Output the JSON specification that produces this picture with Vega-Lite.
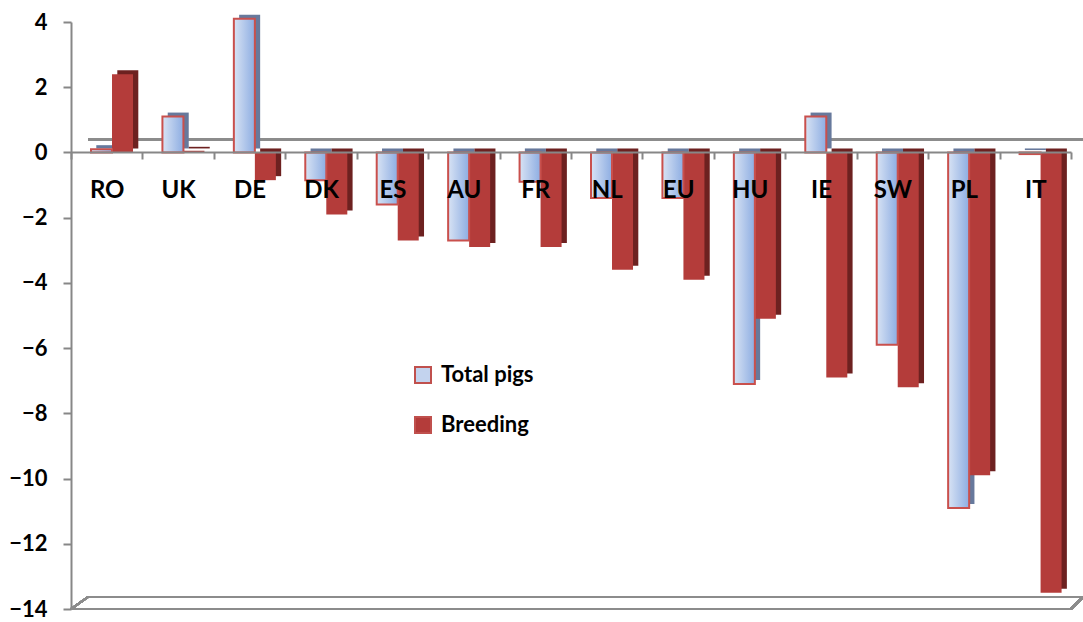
{
  "$schema": "https://vega.github.io/schema/vega-lite/v6.json",
  "width": 1000,
  "height": 587,
  "autosize": {"type": "none"},
  "padding": {"left": 71, "top": 22, "right": 12, "bottom": 13},
  "background": "white",
  "config": {
    "view": {"stroke": null},
    "font": "Lato",
    "axis": {
      "domainColor": "#878787",
      "domainWidth": 2,
      "tickColor": "#878787",
      "tickWidth": 2,
      "labelFont": "Lato",
      "labelFontWeight": "bold",
      "labelColor": "#000000",
      "grid": false,
      "title": null
    },
    "axisY": {"tickSize": 8, "labelFontSize": 22, "labelPadding": 16},
    "axisX": {"tickSize": 7, "labelFontSize": 24, "labelPadding": 19, "labelAngle": 0, "tickBand": "extent"}
  },
  "data": {
    "values": [
      {"country": "RO", "series": "Total pigs", "value": 0.1},
      {"country": "RO", "series": "Breeding", "value": 2.4},
      {"country": "UK", "series": "Total pigs", "value": 1.1},
      {"country": "UK", "series": "Breeding", "value": 0.05},
      {"country": "DE", "series": "Total pigs", "value": 4.1},
      {"country": "DE", "series": "Breeding", "value": -0.85},
      {"country": "DK", "series": "Total pigs", "value": -0.85},
      {"country": "DK", "series": "Breeding", "value": -1.9},
      {"country": "ES", "series": "Total pigs", "value": -1.6},
      {"country": "ES", "series": "Breeding", "value": -2.7},
      {"country": "AU", "series": "Total pigs", "value": -2.7},
      {"country": "AU", "series": "Breeding", "value": -2.9},
      {"country": "FR", "series": "Total pigs", "value": -0.9},
      {"country": "FR", "series": "Breeding", "value": -2.9},
      {"country": "NL", "series": "Total pigs", "value": -1.4},
      {"country": "NL", "series": "Breeding", "value": -3.6},
      {"country": "EU", "series": "Total pigs", "value": -1.4},
      {"country": "EU", "series": "Breeding", "value": -3.9},
      {"country": "HU", "series": "Total pigs", "value": -7.1},
      {"country": "HU", "series": "Breeding", "value": -5.1},
      {"country": "IE", "series": "Total pigs", "value": 1.1},
      {"country": "IE", "series": "Breeding", "value": -6.9},
      {"country": "SW", "series": "Total pigs", "value": -5.9},
      {"country": "SW", "series": "Breeding", "value": -7.2},
      {"country": "PL", "series": "Total pigs", "value": -10.9},
      {"country": "PL", "series": "Breeding", "value": -9.9},
      {"country": "IT", "series": "Total pigs", "value": -0.05},
      {"country": "IT", "series": "Breeding", "value": -13.5}
    ]
  },
  "resolve": {"scale": {"xOffset": "independent"}},
  "layer": [
    {
      "description": "back edge of the zero plane",
      "mark": {"type": "rule", "color": "#8c8c8c", "strokeWidth": 2, "xOffset": 17, "x2Offset": 47.7, "yOffset": -13, "y2Offset": -13},
      "encoding": {
        "x": {"datum": "RO", "type": "nominal", "bandPosition": 0},
        "x2": {"datum": "IT"},
        "y": {"datum": 0, "type": "quantitative"},
        "y2": {"datum": 0}
      }
    },
    {
      "description": "floor: back edge",
      "mark": {"type": "rule", "color": "#8c8c8c", "strokeWidth": 2, "xOffset": 17, "x2Offset": 47.7, "yOffset": -12, "y2Offset": -12},
      "encoding": {
        "x": {"datum": "RO", "type": "nominal", "bandPosition": 0},
        "x2": {"datum": "IT"},
        "y": {"datum": -14, "type": "quantitative"},
        "y2": {"datum": -14}
      }
    },
    {
      "description": "floor: front edge",
      "mark": {"type": "rule", "color": "#8c8c8c", "strokeWidth": 2},
      "encoding": {
        "y": {"datum": -14, "type": "quantitative"}
      }
    },
    {
      "description": "floor: left depth edge",
      "mark": {"type": "rule", "color": "#8c8c8c", "strokeWidth": 2, "x2Offset": -18.7, "y2Offset": -12},
      "encoding": {
        "x": {"datum": "RO", "type": "nominal", "bandPosition": 0},
        "x2": {"datum": "RO"},
        "y": {"datum": -14, "type": "quantitative"},
        "y2": {"datum": -14}
      }
    },
    {
      "description": "floor: right depth edge",
      "mark": {"type": "rule", "color": "#8c8c8c", "strokeWidth": 2, "x2Offset": 47.7, "y2Offset": -12},
      "encoding": {
        "x": {"datum": "IT", "type": "nominal", "bandPosition": 1},
        "x2": {"datum": "IT"},
        "y": {"datum": -14, "type": "quantitative"},
        "y2": {"datum": -14}
      }
    },
    {
      "description": "depth faces of the bars",
      "mark": {"type": "bar", "yOffset": -4, "y2Offset": -4},
      "encoding": {
        "x": {
          "field": "country",
          "type": "nominal",
          "sort": null,
          "scale": {"domain": ["RO", "UK", "DE", "DK", "ES", "AU", "FR", "NL", "EU", "HU", "IE", "SW", "PL", "IT"], "paddingInner": 0, "paddingOuter": 0},
          "title": null,
          "axis": {"offset": -457, "zindex": 1}
        },
        "xOffset": {"field": "series", "type": "nominal", "sort": ["Total pigs", "Breeding"], "scale": {"paddingInner": 0, "paddingOuter": 0.7, "align": 0.86}},
        "y": {"field": "value", "type": "quantitative", "scale": {"domain": [-14, 4], "nice": false}, "title": null, "axis": {"values": [-14, -12, -10, -8, -6, -4, -2, 0, 2, 4]}},
        "fill": {"condition": {"test": "datum.series === 'Breeding'", "value": "#6d2120"}, "value": "#67799c"}
      }
    },
    {
      "description": "front faces, coloured by series",
      "mark": {"type": "bar"},
      "encoding": {
        "x": {"field": "country", "type": "nominal", "sort": null},
        "xOffset": {"field": "series", "type": "nominal", "sort": ["Total pigs", "Breeding"], "scale": {"paddingInner": 0, "paddingOuter": 0.7, "align": 0.68}},
        "y": {"field": "value", "type": "quantitative", "title": null},
        "fill": {
          "field": "series",
          "type": "nominal",
          "scale": {"domain": ["Total pigs", "Breeding"], "range": ["#c3d3ee", "#b43c3a"]},
          "legend": {
            "title": null,
            "orient": "none",
            "legendX": 341,
            "legendY": 342,
            "symbolType": "square",
            "symbolSize": 256,
            "symbolStrokeColor": "#c0504d",
            "symbolStrokeWidth": 2,
            "labelFont": "Lato",
            "labelFontWeight": "bold",
            "labelFontSize": 22,
            "labelColor": "#000000",
            "labelOffset": 7,
            "rowPadding": 26
          }
        }
      }
    },
    {
      "description": "shaded front face of Total pigs",
      "transform": [{"filter": "datum.series === 'Total pigs'"}],
      "mark": {
        "type": "bar",
        "stroke": "#c9504d",
        "strokeWidth": 2,
        "fill": {
          "gradient": "linear",
          "x1": 0, "y1": 0, "x2": 1, "y2": 0,
          "stops": [
            {"offset": 0, "color": "#d8e3f4"},
            {"offset": 1, "color": "#8dade2"}
          ]
        }
      },
      "encoding": {
        "x": {"field": "country", "type": "nominal", "sort": null},
        "xOffset": {"field": "series", "type": "nominal", "sort": ["Total pigs", "Breeding"], "scale": {"domain": ["Total pigs", "Breeding"], "paddingInner": 0, "paddingOuter": 0.7, "align": 0.68}},
        "y": {"field": "value", "type": "quantitative", "title": null}
      }
    }
  ]
}
